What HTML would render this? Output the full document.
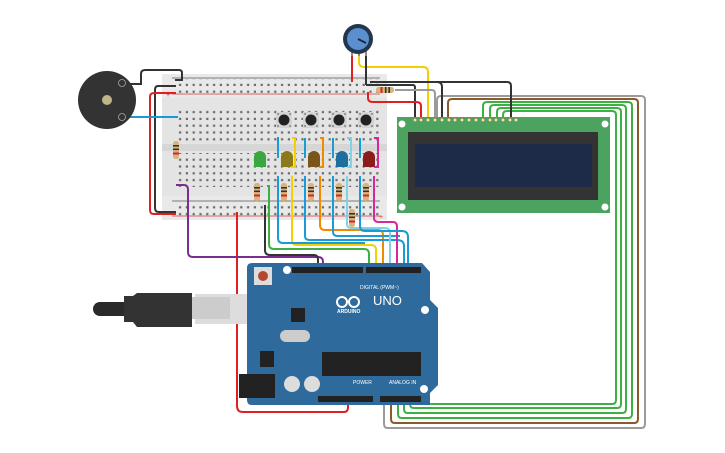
<!DOCTYPE html>
<html><head><meta charset="utf-8"><style>
html,body{margin:0;padding:0;background:#fff;}
svg{display:block;font-family:"Liberation Sans",sans-serif;}
</style></head><body>
<svg width="725" height="453" viewBox="0 0 725 453" xmlns="http://www.w3.org/2000/svg">
<defs>
<pattern id="holes" x="0" y="0" width="6.8" height="6.8" patternUnits="userSpaceOnUse">
<rect x="2.2" y="2.2" width="2.2" height="2.2" fill="#6a6a6a"/>
</pattern>
<g id="res">
<rect x="-3" y="-9" width="6" height="18" rx="2.5" fill="#d8b479"/>
<rect x="-3" y="-5" width="6" height="1.6" fill="#333"/>
<rect x="-3" y="-1.5" width="6" height="1.6" fill="#333"/>
<rect x="-3" y="2.5" width="6" height="2" fill="#d22"/>
</g>
<g id="btn">
<rect x="-8" y="-8" width="16" height="16" fill="#d4d4d4"/>
<circle cx="0" cy="0" r="5.5" fill="#222"/>
<circle cx="-6" cy="-6" r="1" fill="#888"/><circle cx="6" cy="-6" r="1" fill="#888"/>
<circle cx="-6" cy="6" r="1" fill="#888"/><circle cx="6" cy="6" r="1" fill="#888"/>
</g>
</defs>

<g fill="none" stroke-width="2">
<path d="M437 118 V100 Q437 96 441 96 H641 Q645 96 645 100 V424 Q645 428 641 428 H388 Q384 428 384 424 V404" stroke="#9a9a9a"/>
<path d="M448 118 V103 Q448 99 452 99 H634 Q638 99 638 103 V419 Q638 423 634 423 H395 Q391 423 391 419 V404" stroke="#8b5a2b"/>
<path d="M483 118 V106 Q483 102 487 102 H628 Q632 102 632 106 V414 Q632 418 628 418 H402 Q398 418 398 414 V404" stroke="#3cb043"/>
<path d="M490 118 V109 Q490 105 494 105 H622 Q626 105 626 109 V409 Q626 413 622 413 H408 Q404 413 404 409 V404" stroke="#3cb043"/>
<path d="M497 118 V112 Q497 108 501 108 H617 Q621 108 621 112 V404 Q621 408 617 408 H414 Q410 408 410 404" stroke="#3cb043"/>
<path d="M503 118 V115 Q503 111 507 111 H612 Q616 111 616 115 V400 Q616 404 612 404 H420 Q416 404 416 400" stroke="#3cb043"/>
</g>

<rect x="162" y="74" width="225" height="146" rx="2" fill="#e4e4e4"/>
<rect x="162" y="74" width="225" height="24" fill="#e9e9e9"/>
<rect x="162" y="196" width="225" height="24" fill="#e9e9e9"/>
<rect x="162" y="144" width="225" height="7" fill="#d6d6d6"/>
<line x1="172" y1="78" x2="380" y2="78" stroke="#555" stroke-width="0.8"/>
<line x1="172" y1="94" x2="380" y2="94" stroke="#d33" stroke-width="0.8"/>
<line x1="172" y1="201" x2="380" y2="201" stroke="#555" stroke-width="0.8"/>
<line x1="172" y1="216" x2="380" y2="216" stroke="#d33" stroke-width="0.8"/>
<rect x="175" y="79" width="204" height="14" fill="url(#holes)"/>
<rect x="175" y="202" width="204" height="14" fill="url(#holes)"/>
<rect x="175" y="108" width="204" height="34" fill="url(#holes)"/>
<rect x="175" y="153" width="204" height="34" fill="url(#holes)"/>
<text x="166" y="97" font-size="7" fill="#d33">+</text>
<text x="379" y="219" font-size="7" fill="#d33">+</text>

<use href="#btn" x="284" y="120"/><use href="#btn" x="311" y="120"/>
<use href="#btn" x="339" y="120"/><use href="#btn" x="366" y="120"/>

<g>
<path d="M254 167 V157 a6 6 0 0 1 12 0 V167 Z" fill="#3aa640"/>
<path d="M281 167 V157 a6 6 0 0 1 12 0 V167 Z" fill="#8a7a1a"/>
<path d="M308 167 V157 a6 6 0 0 1 12 0 V167 Z" fill="#7a5418"/>
<path d="M336 167 V157 a6 6 0 0 1 12 0 V167 Z" fill="#1d6f9e"/>
<path d="M363 167 V157 a6 6 0 0 1 12 0 V167 Z" fill="#8a1c1c"/>
</g>

<g fill="none" stroke-width="2">
<path d="M278 137 V158" stroke="#1a9ad6"/>
<path d="M292 138 H295 V167 H291" stroke="#f5d000"/>
<path d="M305 138 V158" stroke="#1a9ad6"/>
<path d="M320 138 H323 V167 H319" stroke="#f08a00"/>
<path d="M333 138 V158" stroke="#1a9ad6"/>
<path d="M347 138 H351 V167 H347" stroke="#7fd3e6"/>
<path d="M360 138 V158" stroke="#1a9ad6"/>
<path d="M374 138 H378 V167 H374" stroke="#d6289a"/>
</g>

<use href="#res" x="176" y="150"/>
<use href="#res" x="257" y="192"/><use href="#res" x="284" y="192"/>
<use href="#res" x="311" y="192"/><use href="#res" x="339" y="192"/>
<use href="#res" x="366" y="192"/>
<use href="#res" x="352" y="218"/>

<g fill="none" stroke-width="2">
<path d="M237 212 V406 Q237 412 243 412 H344 Q348 412 348 407 V399" stroke="#e02020"/>
<path d="M176 185 H184 Q188 185 188 190 V252 Q188 257 193 257 H318 Q323 257 323 262 V270" stroke="#7a2f8f"/>
<path d="M265 205 V250 Q265 255 270 255 H314 Q318 255 318 260 V270" stroke="#333"/>
<path d="M267 186 H269 V244 Q269 249 274 249 H364 Q369 249 369 254 V270" stroke="#3cb043"/>
<path d="M292 176 V240 Q292 245 297 245 H371 Q376 245 376 250 V270" stroke="#f5d000"/>
<path d="M278 176 V238 Q278 243 283 243 H365" stroke="#1a9ad6"/>
<path d="M320 176 V225 Q320 230 325 230 H378 Q383 230 383 235 V270" stroke="#f08a00"/>
<path d="M305 176 V236 Q305 240 310 240 H397 Q404 240 404 246 V270" stroke="#1a9ad6"/>
<path d="M333 176 V232 Q333 236 338 236 H400" stroke="#1a9ad6"/>
<path d="M347 176 V224 Q347 228 352 228 H385 Q390 228 390 233 V270" stroke="#7fd3e6"/>
<path d="M374 176 V218 Q374 222 379 222 H393 Q397 222 397 227 V270" stroke="#d6289a"/>
<path d="M360 176 V226 Q360 231 365 231 H402 Q408 231 408 237 V270" stroke="#1a9ad6"/>
</g>

<g fill="none" stroke-width="2">
<path d="M175 80 H182 V73 Q182 70 179 70 H145 Q141 70 141 74 V84 H122" stroke="#333"/>
<path d="M176 86 H158 Q155 86 155 90 V208 Q155 212 159 212 H176" stroke="#333"/>
<path d="M176 93 H154 Q150 93 150 97 V210 Q150 214 154 214 H176" stroke="#e02020"/>
<path d="M122 117 H178" stroke="#1a9ad6"/>
<path d="M352 55 V82" stroke="#e02020"/>
<path d="M359 55 V62 Q359 67 364 67 H423 Q428 67 428 72 V118" stroke="#f5d000"/>
<path d="M366 55 V85" stroke="#333"/>
<path d="M366 85 H413 Q415 85 415 88 V118" stroke="#333"/>
<path d="M370 82 H437 Q442 82 442 87 V118" stroke="#333"/>
<path d="M383 82 H507 Q511 82 511 86 V118" stroke="#333"/>
<path d="M368 92 V98 Q368 102 373 102 H416 Q421 102 421 106 V118" stroke="#e02020"/>
<path d="M395 90 H432 Q435 90 435 94 V118" stroke="#9a9a9a"/>
</g>
<g transform="translate(385,90) rotate(90)"><use href="#res"/></g>

<line x1="352" y1="50" x2="352" y2="56" stroke="#888" stroke-width="2"/>
<line x1="359" y1="50" x2="359" y2="56" stroke="#888" stroke-width="2"/>
<line x1="366" y1="50" x2="366" y2="56" stroke="#888" stroke-width="2"/>
<circle cx="358" cy="39" r="15" fill="#22364d"/>
<circle cx="358" cy="39" r="11" fill="#5b8fd0"/>
<line x1="358" y1="39" x2="366" y2="43" stroke="#1b2a3d" stroke-width="2"/>

<circle cx="107" cy="100" r="29" fill="#333"/>
<circle cx="107" cy="100" r="5" fill="#bfb58a"/>
<circle cx="122" cy="83" r="3.5" fill="none" stroke="#aaa" stroke-width="0.8"/>
<circle cx="122" cy="117" r="3.5" fill="none" stroke="#aaa" stroke-width="0.8"/>

<rect x="397" y="117" width="213" height="96" fill="#4ca35f"/>
<circle cx="402" cy="124" r="3.5" fill="#fff"/><circle cx="605" cy="124" r="3.5" fill="#fff"/>
<circle cx="402" cy="207" r="3.5" fill="#fff"/><circle cx="605" cy="207" r="3.5" fill="#fff"/>
<rect x="408" y="132" width="190" height="68" fill="#333"/>
<rect x="415" y="144" width="177" height="43" fill="#1e2b48"/>
<g fill="#e9e4c0" stroke="#8a7a30" stroke-width="0.6">
<circle cx="415" cy="120" r="1.8"/><circle cx="421" cy="120" r="1.8"/><circle cx="428" cy="120" r="1.8"/><circle cx="435" cy="120" r="1.8"/><circle cx="442" cy="120" r="1.8"/><circle cx="449" cy="120" r="1.8"/><circle cx="455" cy="120" r="1.8"/><circle cx="462" cy="120" r="1.8"/><circle cx="469" cy="120" r="1.8"/><circle cx="476" cy="120" r="1.8"/><circle cx="483" cy="120" r="1.8"/><circle cx="490" cy="120" r="1.8"/><circle cx="496" cy="120" r="1.8"/><circle cx="503" cy="120" r="1.8"/><circle cx="510" cy="120" r="1.8"/><circle cx="516" cy="120" r="1.8"/>
</g>

<rect x="195" y="294" width="78" height="30" fill="#ddd"/>
<rect x="190" y="297" width="40" height="22" fill="#ccc"/>
<path d="M137 293 H192 V327 H137 L133 322 H124 V296 H133 Z" fill="#333"/>
<path d="M100 302 H124 V316 H100 a7 7 0 0 1 0-14 Z" fill="#2a2a2a"/>

<path d="M252 263 H422 L430 272 V300 L438 308 V385 L430 393 V405 H252 Q247 405 247 400 V268 Q247 263 252 263 Z" fill="#2f6a9c"/>
<rect x="254" y="267" width="18" height="18" fill="#ddd"/><circle cx="263" cy="276" r="5" fill="#b5472e"/>
<circle cx="287" cy="270" r="4" fill="#fff"/><circle cx="425" cy="310" r="4" fill="#fff"/><circle cx="424" cy="389" r="4" fill="#fff"/>
<rect x="292" y="267" width="71" height="6" fill="#222"/>
<rect x="366" y="267" width="55" height="6" fill="#222"/>
<text x="360" y="289" font-size="5" fill="#fff">DIGITAL (PWM~)</text>
<text x="373" y="305" font-size="13" fill="#fff">UNO</text>
<text x="337" y="313" font-size="5" font-weight="bold" fill="#fff">ARDUINO</text>
<circle cx="342" cy="302" r="5" fill="none" stroke="#fff" stroke-width="2"/>
<circle cx="354" cy="302" r="5" fill="none" stroke="#fff" stroke-width="2"/>
<rect x="291" y="308" width="14" height="14" fill="#222"/>
<rect x="280" y="330" width="30" height="12" rx="6" fill="#ccc"/>
<rect x="322" y="352" width="99" height="24" fill="#222"/>
<rect x="260" y="351" width="14" height="16" fill="#222"/>
<rect x="239" y="374" width="36" height="24" fill="#222"/>
<circle cx="292" cy="384" r="8" fill="#ddd"/><circle cx="312" cy="384" r="8" fill="#ddd"/>
<text x="353" y="384" font-size="5" fill="#fff">POWER</text>
<text x="389" y="384" font-size="5" fill="#fff">ANALOG IN</text>
<rect x="318" y="396" width="55" height="6" fill="#222"/>
<rect x="380" y="396" width="41" height="6" fill="#222"/>
</svg>
</body></html>
